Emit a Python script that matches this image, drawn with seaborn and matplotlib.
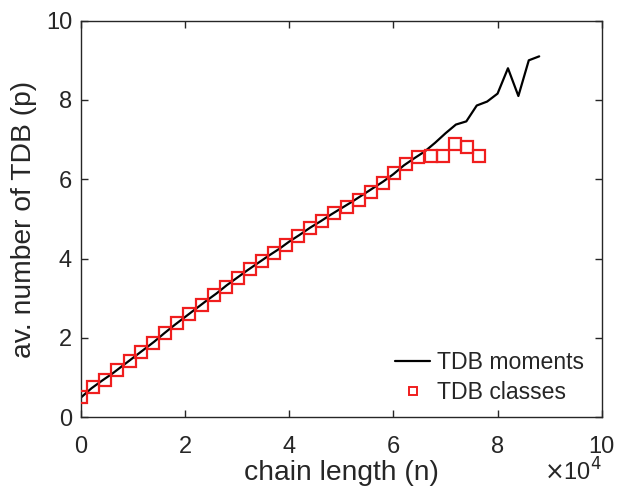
import numpy as np
import pandas as pd
import matplotlib
matplotlib.use("Agg")
import matplotlib.pyplot as plt
import seaborn as sns
from matplotlib.lines import Line2D

# ---- data (chain length in units of 1e4) ----
moments_n = [0.0, 0.2, 0.4, 0.6, 0.8, 1.0, 1.2, 1.4, 1.6, 1.8, 2.0, 2.2, 2.4, 2.6, 2.8,
             3.0, 3.2, 3.4, 3.6, 3.8, 4.0, 4.2, 4.4, 4.6, 4.8, 5.0, 5.2, 5.4, 5.6, 5.8,
             6.0, 6.2, 6.4, 6.6, 6.8, 7.0, 7.2, 7.4, 7.6, 7.8, 8.0, 8.2, 8.4, 8.6, 8.8]
moments_p = [0.50, 0.73, 0.92, 1.10, 1.30, 1.50, 1.70, 1.90, 2.12, 2.33, 2.53, 2.73, 2.93,
             3.12, 3.33, 3.52, 3.71, 3.89, 4.07, 4.24, 4.43, 4.60, 4.78, 4.94, 5.11, 5.27,
             5.43, 5.60, 5.77, 5.94, 6.13, 6.35, 6.53, 6.70, 6.92, 7.16, 7.38, 7.46, 7.86,
             7.96, 8.16, 8.80, 8.10, 9.00, 9.10]

classes_n = [0.00, 0.23, 0.46, 0.69, 0.93, 1.16, 1.39, 1.62, 1.85, 2.08, 2.32, 2.55, 2.78,
             3.01, 3.24, 3.47, 3.71, 3.94, 4.17, 4.40, 4.63, 4.86, 5.10, 5.33, 5.56, 5.79,
             6.02, 6.25, 6.48, 6.72, 6.95, 7.18, 7.41, 7.64]
classes_p = [0.50, 0.76, 0.95, 1.18, 1.41, 1.65, 1.88, 2.13, 2.37, 2.60, 2.84, 3.07, 3.29,
             3.50, 3.73, 3.94, 4.15, 4.34, 4.57, 4.78, 4.95, 5.14, 5.29, 5.48, 5.67, 5.91,
             6.16, 6.39, 6.55, 6.58, 6.58, 6.90, 6.82, 6.59]

x_ticks = [0, 2, 4, 6, 8, 10]
y_ticks = [0, 2, 4, 6, 8, 10]

df_m = pd.DataFrame({"n": np.array(moments_n) * 1e4, "p": moments_p})
df_c = pd.DataFrame({"n": np.array(classes_n) * 1e4, "p": classes_p})

sns.set_style("white")
plt.rcParams["font.family"] = ["Liberation Sans", "DejaVu Sans"]

AX = "#262626"
RED = "#f01e1e"

fig = plt.figure(figsize=(6.19, 4.92), dpi=100)
ax = fig.add_axes([0.131, 0.152, 0.841, 0.806])

sns.lineplot(data=df_m, x="n", y="p", ax=ax, color="black", linewidth=1.6,
             sort=False, estimator=None, legend=False, zorder=2)
sns.lineplot(data=df_c, x="n", y="p", ax=ax, linestyle="", marker="s",
             markersize=8.3, markerfacecolor="none", markeredgecolor=RED,
             markeredgewidth=1.6, sort=False, estimator=None, legend=False, zorder=3)

ax.set_xlim(0, 1e5)
ax.set_ylim(0, 10)
ax.set_xticks([t * 1e4 for t in x_ticks])
ax.set_xticklabels([str(t) for t in x_ticks])
ax.set_yticks(y_ticks)
ax.set_yticklabels([str(t) for t in y_ticks])

for s in ax.spines.values():
    s.set_visible(True)
    s.set_color(AX)
    s.set_linewidth(1.0)
ax.tick_params(axis="both", which="both", direction="in", length=5, width=1.0,
               colors=AX, labelsize=17, top=True, right=True,
               bottom=True, left=True, labelcolor=AX)
ax.tick_params(axis="x", pad=13.5)
ax.tick_params(axis="y", pad=6.5)
ax.grid(False)

ax.set_xlabel("chain length (n)", fontsize=20.3, color=AX)
ax.set_ylabel("av. number of TDB (p)", fontsize=20.3, color=AX)
ax.xaxis.set_label_coords(0.5, -0.107)
ax.yaxis.set_label_coords(-0.084, 0.5)

ax.text(1.0, -0.104, r"$\times$10$^4$", transform=ax.transAxes, ha="right",
        va="top", fontsize=17, color=AX)

handles = [Line2D([0], [0], color="black", lw=1.6),
           Line2D([0], [0], color=RED, lw=0, marker="s", markersize=6,
                  markerfacecolor="none", markeredgewidth=1.4)]
ax.legend(handles, ["TDB moments", "TDB classes"], loc="lower right",
          bbox_to_anchor=(0.966, 0.033), frameon=False, fontsize=16.6,
          handlelength=1.5, handletextpad=0.3, labelspacing=0.3,
          borderaxespad=0.0, borderpad=0.0)

fig.savefig("out.png", dpi=100)
